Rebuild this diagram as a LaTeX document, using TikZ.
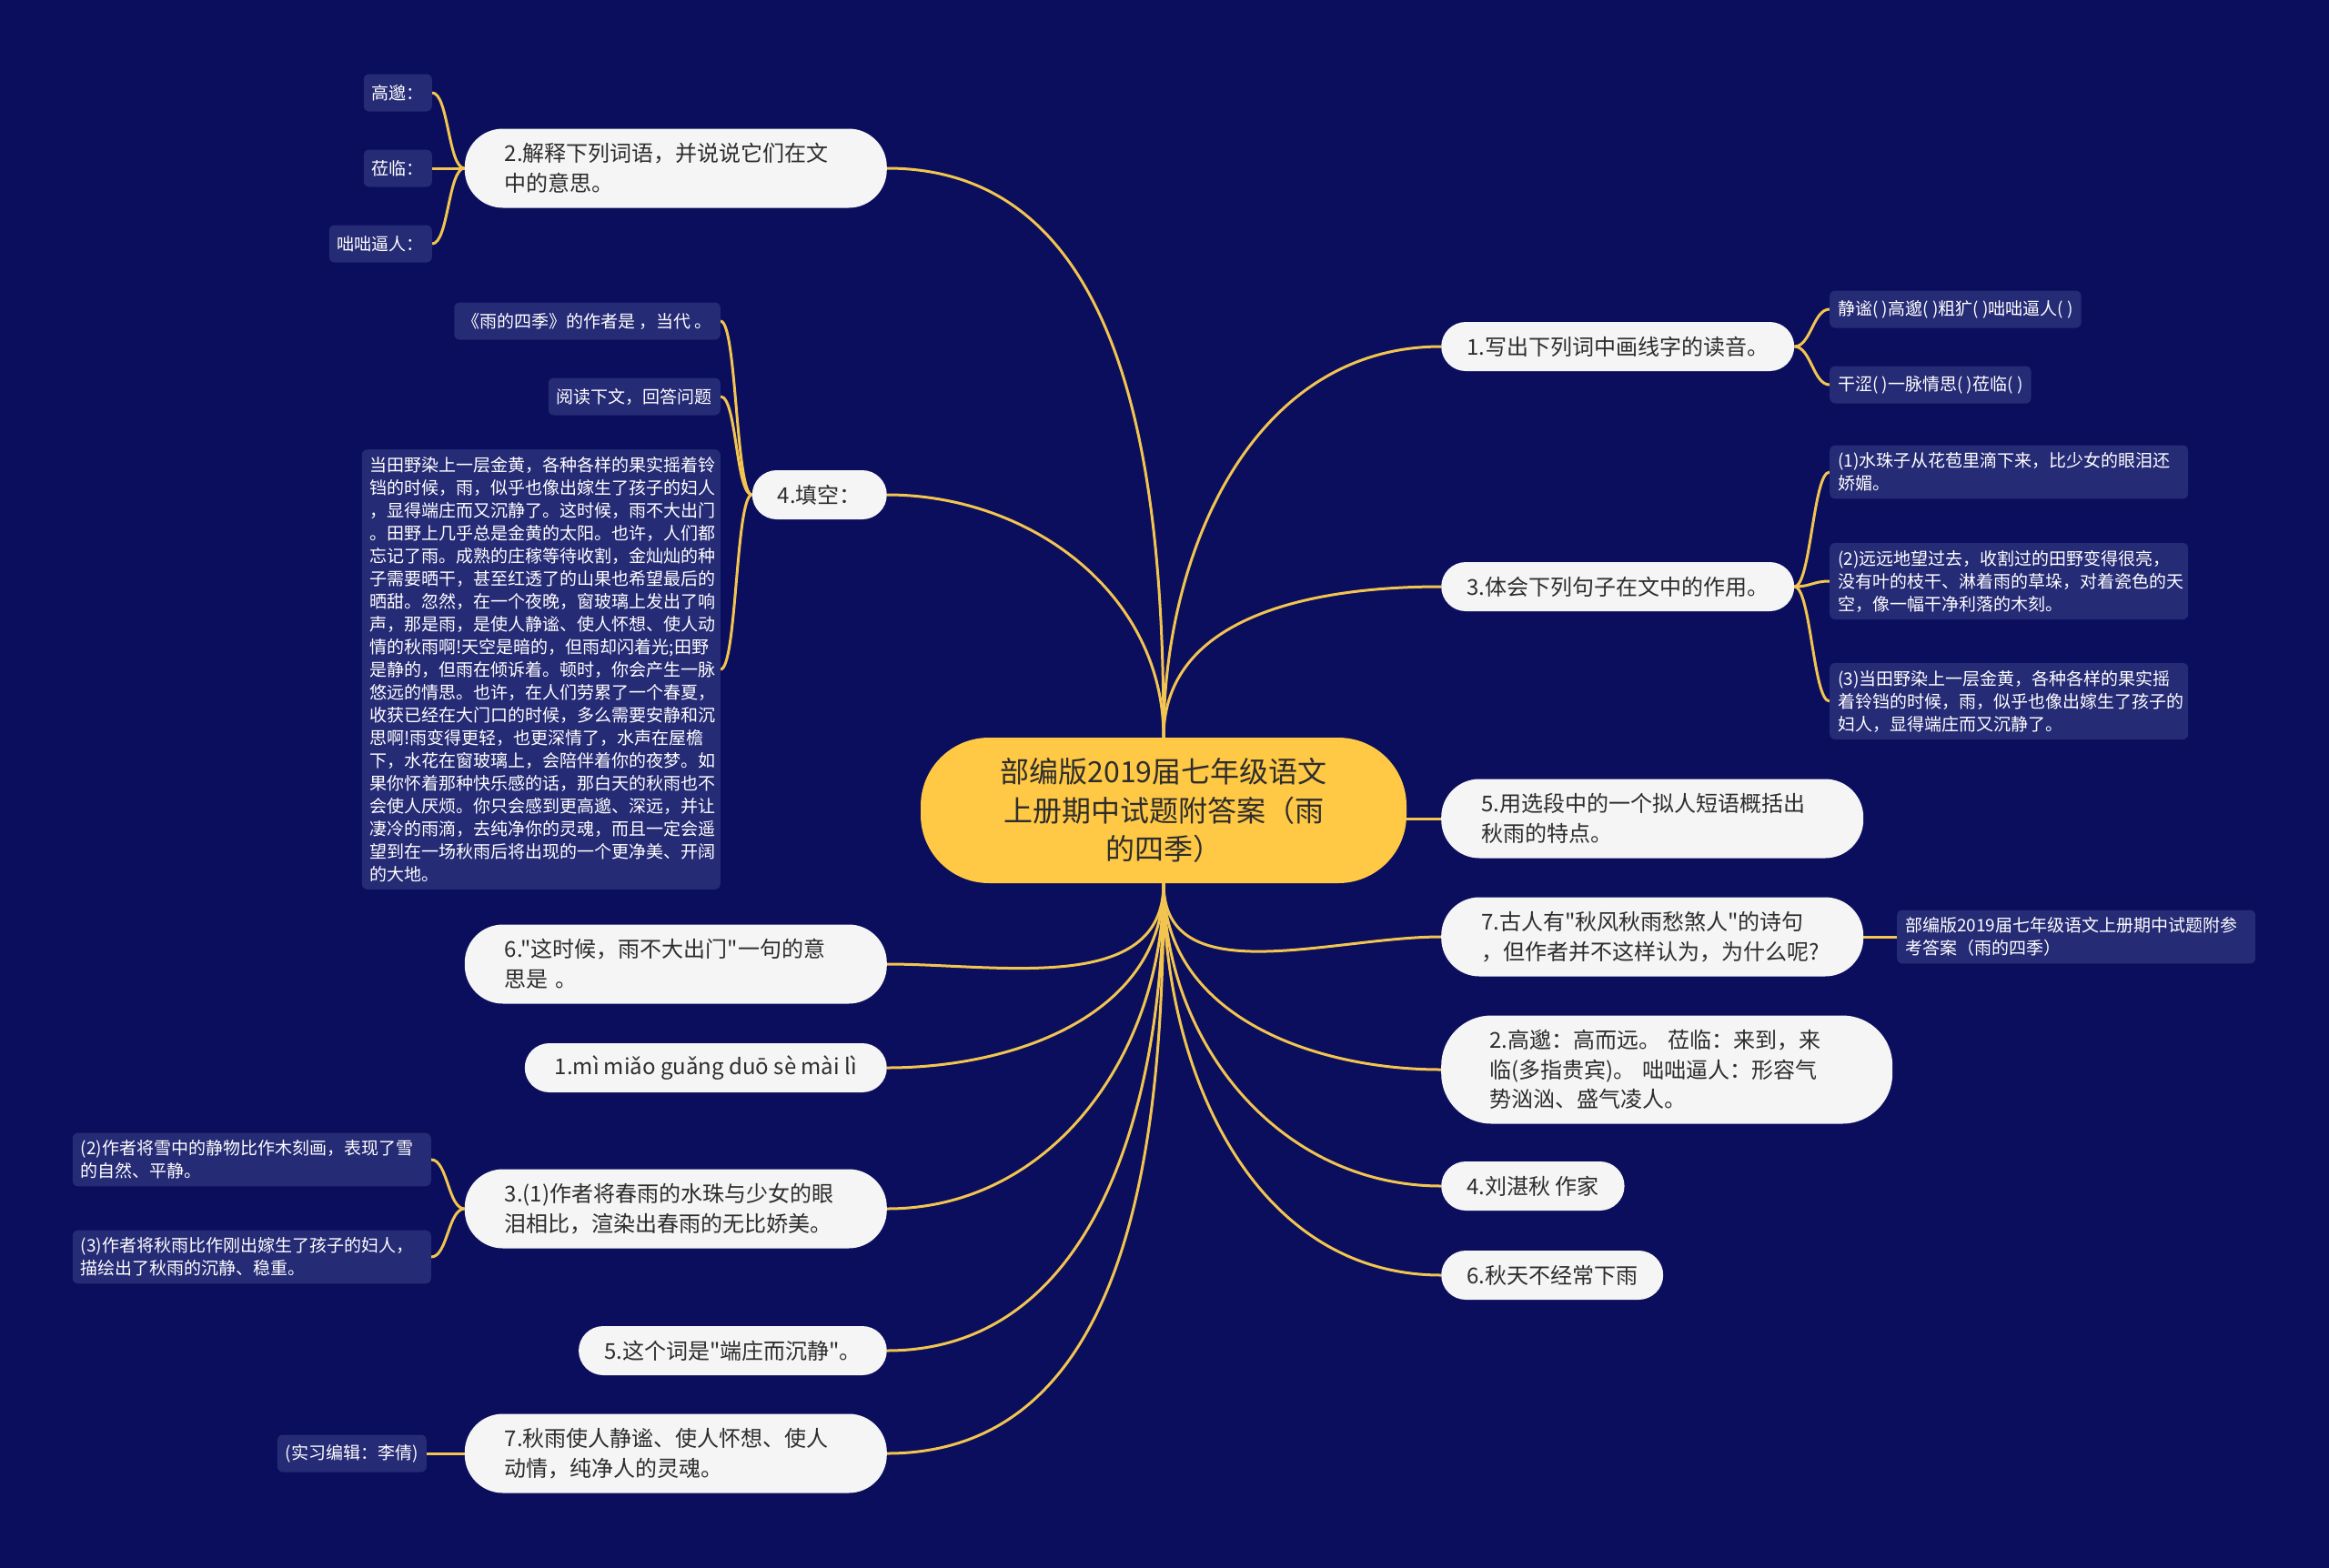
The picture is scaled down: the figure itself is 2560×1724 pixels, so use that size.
\documentclass[tikz,border=0pt]{standalone}
\usepackage{fontspec}
\setmainfont{Noto Sans CJK SC}[Ligatures=TeXOff]
\usepackage{tikz}
\usetikzlibrary{backgrounds,calc}
\definecolor{bgnavy}{RGB}{10,14,92}
\definecolor{leafnavy}{RGB}{38,43,118}
\definecolor{rootgold}{RGB}{255,200,69}
\definecolor{branchgold}{RGB}{242,196,80}
\definecolor{topicwhite}{RGB}{245,245,245}
\definecolor{inkgray}{RGB}{45,45,45}
\tikzset{
  rootbox/.style  ={rectangle, rounded corners=75pt, fill=rootgold, text=inkgray, align=center,
                    font=\fontsize{32}{42.5}\selectfont, minimum width=534pt, minimum height=160pt},
  topic/.style    ={rectangle, rounded corners=27pt, fill=topicwhite, text=inkgray, align=left,
                    font=\fontsize{24}{32.5}\selectfont, inner xsep=28pt, inner ysep=0pt, minimum height=54pt},
  topicwide/.style={topic, rounded corners=42pt, text width=376pt, inner xsep=44pt, minimum height=87pt},
  leafbox/.style  ={rectangle, rounded corners=6pt, fill=leafnavy, text=white, align=left,
                    font=\fontsize{19}{25}\selectfont, inner xsep=9pt, inner ysep=8pt, minimum height=41pt},
  leafwide/.style ={leafbox, text width=376pt},
  branchline/.style={draw=branchgold, line width=3pt},
}

\begin{document}
\begin{tikzpicture}[x=1pt, y=-1pt]
\useasboundingbox (0,0) rectangle (2560,1724);
% centre
\node[rootbox] (hub) at (1279,891) {部编版2019届七年级语文\\上册期中试题附答案（雨\\的四季）};

% left side
\node[topicwide, anchor=east] (jieshi) at (975,185) {2.解释下列词语，并说说它们在文\\中的意思。};
\node[topic, anchor=east] (tiankong) at (975,544) {4.填空：};
\node[topicwide, anchor=east] (zheshihou) at (975,1060) {6."这时候，雨不大出门"一句的意\\思是 。};
\node[topic, anchor=east, inner xsep=33pt] (pinyin) at (975,1174) {1.mì miǎo guǎng duō sè mài lì};
\node[topicwide, anchor=east] (bili) at (975,1329) {3.(1)作者将春雨的水珠与少女的眼\\泪相比，渲染出春雨的无比娇美。};
\node[topic, anchor=east] (zhegeci) at (975,1485) {5.这个词是"端庄而沉静"。};
\node[topicwide, anchor=east] (qiuyu) at (975,1598) {7.秋雨使人静谧、使人怀想、使人\\动情，纯净人的灵魂。};

% right side
\node[topic, anchor=west] (duyin) at (1584,381) {1.写出下列词中画线字的读音。};
\node[topic, anchor=west] (zuoyong) at (1584,645) {3.体会下列句子在文中的作用。};
\node[topicwide, anchor=west] (gaikuo) at (1584,900) {5.用选段中的一个拟人短语概括出\\秋雨的特点。};
\node[topicwide, anchor=west] (guren) at (1584,1030) {7.古人有"秋风秋雨愁煞人"的诗句\\，但作者并不这样认为，为什么呢?};
\node[topicwide, anchor=west, text width=390pt, inner xsep=53pt, minimum height=119pt, rounded corners=55pt]
  (gaomiao) at (1584,1176) {2.高邈：高而远。 莅临：来到，来\\临(多指贵宾)。 咄咄逼人：形容气\\势汹汹、盛气凌人。};
\node[topic, anchor=west] (liu) at (1584,1304) {4.刘湛秋 作家};
\node[topic, anchor=west] (qiutian) at (1584,1402) {6.秋天不经常下雨};

% leaves, left
\node[leafbox, anchor=east] (gm) at (475,102) {高邈：};
\node[leafbox, anchor=east] (ll) at (475,185) {莅临：};
\node[leafbox, anchor=east] (dd) at (475,268) {咄咄逼人：};
\node[leafbox, anchor=east] (zz) at (792,353) {《雨的四季》的作者是 ，当代 。};
\node[leafbox, anchor=east] (yd) at (792,436) {阅读下文，回答问题};
\node[leafwide, anchor=east] (wen) at (792,736) {当田野染上一层金黄，各种各样的果实摇着铃\\铛的时候，雨，似乎也像出嫁生了孩子的妇人\\，显得端庄而又沉静了。这时候，雨不大出门\\。田野上几乎总是金黄的太阳。也许，人们都\\忘记了雨。成熟的庄稼等待收割，金灿灿的种\\子需要晒干，甚至红透了的山果也希望最后的\\晒甜。忽然，在一个夜晚，窗玻璃上发出了响\\声，那是雨，是使人静谧、使人怀想、使人动\\情的秋雨啊!天空是暗的，但雨却闪着光;田野\\是静的，但雨在倾诉着。顿时，你会产生一脉\\悠远的情思。也许，在人们劳累了一个春夏，\\收获已经在大门口的时候，多么需要安静和沉\\思啊!雨变得更轻，也更深情了，水声在屋檐\\下，水花在窗玻璃上，会陪伴着你的夜梦。如\\果你怀着那种快乐感的话，那白天的秋雨也不\\会使人厌烦。你只会感到更高邈、深远，并让\\凄冷的雨滴，去纯净你的灵魂，而且一定会遥\\望到在一场秋雨后将出现的一个更净美、开阔\\的大地。};
\node[leafwide, anchor=east] (a2) at (474,1275) {(2)作者将雪中的静物比作木刻画，表现了雪\\的自然、平静。};
\node[leafwide, anchor=east] (a3) at (474,1382) {(3)作者将秋雨比作刚出嫁生了孩子的妇人，\\描绘出了秋雨的沉静、稳重。};
\node[leafbox, anchor=east] (bj) at (469,1598) {(实习编辑：李倩)};

% leaves, right
\node[leafbox, anchor=west] (jm) at (2011,340) {静谧( )高邈( )粗犷( )咄咄逼人( )};
\node[leafbox, anchor=west] (gs) at (2011,423) {干涩( )一脉情思( )莅临( )};
\node[leafwide, anchor=west] (s1) at (2011,519) {(1)水珠子从花苞里滴下来，比少女的眼泪还\\娇媚。};
\node[leafwide, anchor=west] (s2) at (2011,639) {(2)远远地望过去，收割过的田野变得很亮，\\没有叶的枝干、淋着雨的草垛，对着瓷色的天\\空，像一幅干净利落的木刻。};
\node[leafwide, anchor=west] (s3) at (2011,771) {(3)当田野染上一层金黄，各种各样的果实摇\\着铃铛的时候，雨，似乎也像出嫁生了孩子的\\妇人，显得端庄而又沉静了。};
\node[leafwide, anchor=west] (cankao) at (2085,1030) {部编版2019届七年级语文上册期中试题附参\\考答案（雨的四季）};

\begin{scope}[on background layer]
\fill[bgnavy] (0,0) rectangle (2560,1724);
% from the centre
\draw[branchline] (hub.north) to[out=90,in=0] (jieshi.east);
\draw[branchline] (hub.north) to[out=90,in=0] (tiankong.east);
\draw[branchline] (hub.south) to[out=-90,in=0] (zheshihou.east);
\draw[branchline] (hub.south) to[out=-90,in=0] (pinyin.east);
\draw[branchline] (hub.south) to[out=-90,in=0] (bili.east);
\draw[branchline] (hub.south) to[out=-90,in=0] (zhegeci.east);
\draw[branchline] (hub.south) to[out=-90,in=0] (qiuyu.east);
\draw[branchline] (hub.north) to[out=90,in=180] (duyin.west);
\draw[branchline] (hub.north) to[out=90,in=180] (zuoyong.west);
\draw[branchline] (hub.east |- gaikuo.west) -- (gaikuo.west);
\draw[branchline] (hub.south) to[out=-90,in=180] (guren.west);
\draw[branchline] (hub.south) to[out=-90,in=180] (gaomiao.west);
\draw[branchline] (hub.south) to[out=-90,in=180] (liu.west);
\draw[branchline] (hub.south) to[out=-90,in=180] (qiutian.west);
% brackets to the leaves
\foreach \leaf in {gm,ll,dd}
  \draw[branchline] (jieshi.west) .. controls +(-18,0) and +(18,0) .. (\leaf.east);
\foreach \leaf in {zz,yd,wen}
  \draw[branchline] (tiankong.west) .. controls +(-18,0) and +(18,0) .. (\leaf.east);
\foreach \leaf in {a2,a3}
  \draw[branchline] (bili.west) .. controls +(-18,0) and +(18,0) .. (\leaf.east);
\foreach \leaf in {jm,gs}
  \draw[branchline] (duyin.east) .. controls +(18,0) and +(-18,0) .. (\leaf.west);
\foreach \leaf in {s1,s2,s3}
  \draw[branchline] (zuoyong.east) .. controls +(18,0) and +(-18,0) .. (\leaf.west);
\draw[branchline] (guren.east) -- (cankao.west);
\draw[branchline] (qiuyu.west) -- (bj.east);
\end{scope}
\end{tikzpicture}
\end{document}
